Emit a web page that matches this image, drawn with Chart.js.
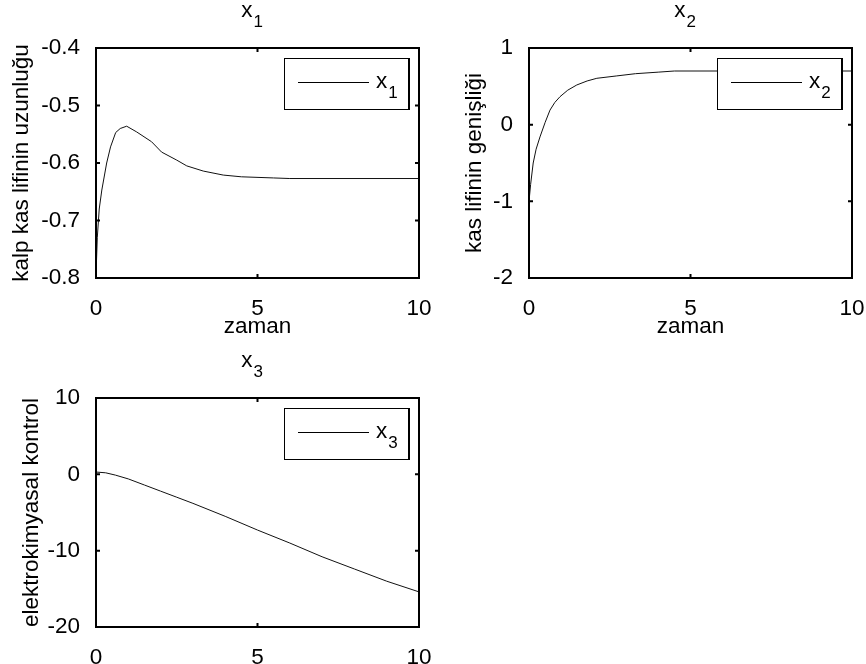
<!DOCTYPE html>
<html lang="tr">
  <head>
    <meta charset="UTF-8" />
    <title>x1 x2 x3</title>
    <script src="https://cdn.jsdelivr.net/npm/chart.js@4.4.0/dist/chart.umd.min.js"></script>
    <style>
      body { margin: 0; background: #fff; width: 866px; height: 664px; position: relative; overflow: hidden; }
      canvas { position: absolute; }
    </style>
  </head>
  <body>
    <canvas id="c1" width="433" height="340" style="left:0;top:0"></canvas>
    <canvas id="c2" width="433" height="340" style="left:433px;top:0"></canvas>
    <canvas id="c3" width="433" height="324" style="left:0;top:340px"></canvas>
    <script>
      // time (zaman) and values
      const t1 = [0, 0.04, 0.1, 0.18, 0.33, 0.45, 0.61, 0.75, 0.95, 1.26, 1.72, 2.03, 2.5, 2.81, 3.32, 3.94, 4.5, 5.5, 6, 10]
      const x1 = [-0.795, -0.73, -0.68, -0.647, -0.6, -0.572, -0.547, -0.54, -0.536, -0.546, -0.563, -0.581, -0.595, -0.605, -0.614, -0.621, -0.624, -0.626, -0.627, -0.627]

      const t2 = [0, 0.05, 0.13, 0.22, 0.34, 0.5, 0.65, 0.8, 0.96, 1.2, 1.48, 1.8, 2.1, 2.7, 3.3, 4.0, 4.5, 10]
      const x2 = [-1.0, -0.78, -0.5, -0.32, -0.16, 0.03, 0.19, 0.29, 0.365, 0.45, 0.518, 0.57, 0.605, 0.635, 0.665, 0.685, 0.7, 0.7]

      const t3 = [0, 0.3, 0.6, 1, 1.5, 2, 2.5, 3, 4, 5, 6, 7, 8, 9, 10]
      const x3 = [0.3, 0.2, -0.1, -0.6, -1.4, -2.2, -3.0, -3.8, -5.5, -7.3, -9.0, -10.8, -12.4, -14.0, -15.4]

      const xTicks = [0, 5, 10]
      const y1Ticks = [-0.8, -0.7, -0.6, -0.5, -0.4]
      const y2Ticks = [-2, -1, 0, 1]
      const y3Ticks = [-20, -10, 0, 10]

      const FONT = "'Liberation Sans', Arial, sans-serif"
      const SIZE = 22.5
      Chart.defaults.font.family = FONT
      Chart.defaults.font.size = SIZE
      Chart.defaults.color = '#000'

      function drawSub(ctx, main, sub, x, y, center) {
        ctx.font = SIZE + 'px ' + FONT
        const w1 = ctx.measureText(main).width
        ctx.font = '17px ' + FONT
        const w2 = ctx.measureText(sub).width
        const x0 = center ? x - (w1 + w2) / 2 : x
        ctx.fillStyle = '#000'
        ctx.textAlign = 'left'
        ctx.textBaseline = 'alphabetic'
        ctx.font = SIZE + 'px ' + FONT
        ctx.fillText(main, x0, y)
        ctx.font = '17px ' + FONT
        ctx.fillText(sub, x0 + w1 + 1, y + 10)
      }

      // matlab style box, inward ticks, legend box and title
      const matlabBox = {
        id: 'matlabBox',
        afterDatasetsDraw(chart, args, opts) {
          const { ctx, chartArea: a, scales } = chart
          ctx.save()
          const lx = a.right - 135, ly = a.top + 10
          ctx.fillStyle = '#fff'
          ctx.fillRect(lx, ly, 125, 51)
          ctx.strokeStyle = '#000'
          ctx.lineWidth = 1
          ctx.strokeRect(lx + 0.5, ly + 0.5, 125, 51)
          ctx.lineWidth = 2
          ctx.beginPath()
          ctx.moveTo(lx + 125, ly)
          ctx.lineTo(lx + 125, ly + 52)
          ctx.stroke()
          ctx.lineWidth = 1
          ctx.beginPath()
          ctx.moveTo(lx + 14, ly + 24.5)
          ctx.lineTo(lx + 85, ly + 24.5)
          ctx.stroke()
          drawSub(ctx, 'x', opts.sub, lx + 92, ly + 30, false)

          ctx.lineWidth = 2
          ctx.strokeRect(a.left, a.top, a.right - a.left, a.bottom - a.top)
          ctx.beginPath()
          scales.x.ticks.forEach((tk) => {
            const px = scales.x.getPixelForValue(tk.value)
            ctx.moveTo(px, a.bottom); ctx.lineTo(px, a.bottom - 4)
            ctx.moveTo(px, a.top); ctx.lineTo(px, a.top + 4)
          })
          scales.y.ticks.forEach((tk) => {
            const py = scales.y.getPixelForValue(tk.value)
            ctx.moveTo(a.left, py); ctx.lineTo(a.left + 4, py)
            ctx.moveTo(a.right, py); ctx.lineTo(a.right - 4, py)
          })
          ctx.stroke()

          drawSub(ctx, 'x', opts.sub, (a.left + a.right) / 2 - 6, a.top - 31, true)
          ctx.restore()
        },
      }

      function plot(id, ts, vs, yTicks, sub, yTitle, yTitlePad, xTitle, padTop, xHeight) {
        const ctx = document.getElementById(id).getContext('2d')
        return new Chart(ctx, {
          type: 'line',
          data: {
            datasets: [
              {
                label: 'x' + sub,
                data: ts.map((t, i) => ({ x: t, y: vs[i] })),
                borderColor: '#111',
                borderWidth: 1,
                pointRadius: 0,
                tension: 0,
              },
            ],
          },
          options: {
            responsive: false,
            animation: false,
            devicePixelRatio: 1,
            layout: { padding: { top: padTop, right: 14, left: 0, bottom: 0 } },
            plugins: {
              legend: { display: false },
              tooltip: { enabled: false },
              matlabBox: { sub: sub },
            },
            scales: {
              x: {
                type: 'linear',
                min: 0,
                max: 10,
                afterBuildTicks: (s) => { s.ticks = xTicks.map((v) => ({ value: v })) },
                afterFit: (s) => { s.height = xHeight; s.paddingLeft = 0; s.paddingRight = 0 },
                ticks: { padding: 9, maxRotation: 0, color: '#000' },
                grid: { display: false },
                border: { display: false },
                title: { display: !!xTitle, text: xTitle, color: '#000', padding: { top: 0, bottom: 0 } },
              },
              y: {
                min: yTicks[0],
                max: yTicks[yTicks.length - 1],
                afterBuildTicks: (s) => { s.ticks = yTicks.map((v) => ({ value: v })) },
                afterFit: (s) => { s.width = 96; s.paddingTop = 0; s.paddingBottom = 0 },
                ticks: { padding: 8, color: '#000' },
                grid: { display: false },
                border: { display: false },
                title: { display: true, text: yTitle, color: '#000', padding: { top: yTitlePad, bottom: 0 } },
              },
            },
          },
          plugins: [matlabBox],
        })
      }

      plot('c1', t1, x1, y1Ticks, '1', 'kalp kas lifinin uzunluğu', 8, 'zaman', 48, 62)
      plot('c2', t2, x2, y2Ticks, '2', 'kas lifinin genişliği', 28, 'zaman', 48, 62)
      plot('c3', t3, x3, y3Ticks, '3', 'elektrokimyasal kontrol', 18, '', 58, 37)
    </script>
  </body>
</html>
